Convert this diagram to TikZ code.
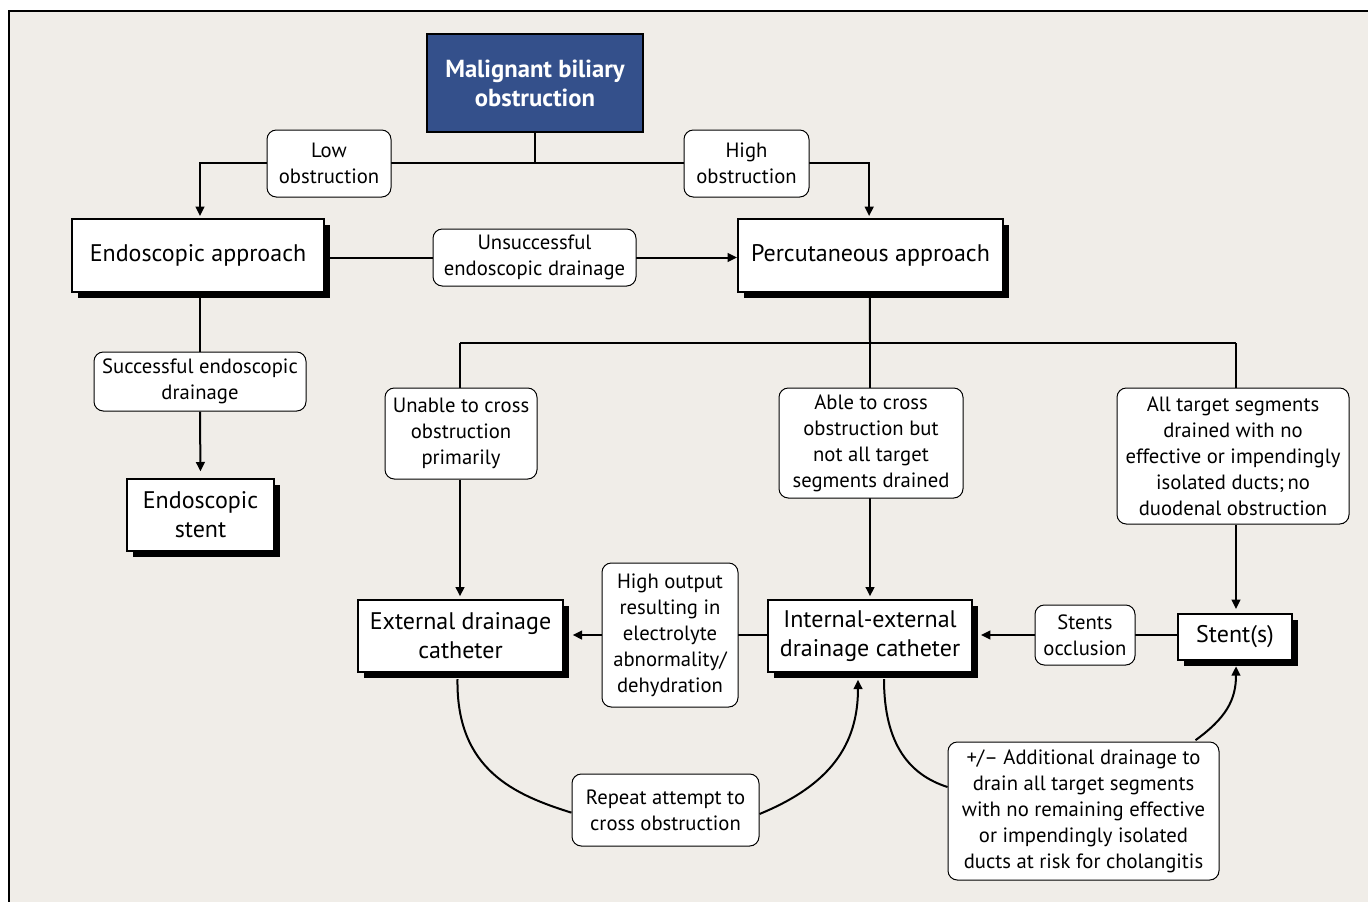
\documentclass[tikz,border=0pt]{standalone}
\usepackage{fontspec}
\setmainfont{PT Sans}
\usetikzlibrary{arrows.meta,shadows}
\definecolor{bgc}{HTML}{F0EDE8}
\definecolor{titleblue}{HTML}{34508B}
\pgfdeclarelayer{bg}
\pgfdeclarelayer{lines}
\pgfsetlayers{bg,lines,main}
\tikzset{
  box/.style={draw=black, line width=1.5pt, fill=white, align=center, inner sep=0pt,
    font=\fontsize{18}{21.75}\selectfont,
    drop shadow={shadow xshift=4.5pt, shadow yshift=-4.5pt, fill=black, opacity=1}},
  titlebox/.style={draw=black, line width=1.5pt, fill=titleblue, text=white, align=center,
    inner sep=0pt, font=\fontsize{18.5}{21.75}\selectfont\bfseries},
  lbl/.style={draw=black, line width=0.75pt, fill=white, rounded corners=7pt, align=center,
    inner sep=0pt, font=\fontsize{15.5}{19.5}\selectfont},
  conn/.style={line width=1.5pt, draw=black},
  arr/.style={conn, -{Triangle[length=7pt,width=6.5pt]}},
}
\begin{document}
\begin{tikzpicture}[x=0.75pt,y=-0.75pt]
\useasboundingbox (0,0) rectangle (1368,901);
\begin{pgfonlayer}{bg}
\fill[white] (0,0) rectangle (1368,901);
\draw[fill=bgc, line width=1.5pt] (9,11) rectangle (1390,920);
\end{pgfonlayer}

% main boxes
\node[titlebox, minimum width=162pt, minimum height=73.5pt] (title) at (535,83) {Malignant biliary\\obstruction};
\node[box, minimum width=189pt, minimum height=54.75pt] (endo) at (198,255.5) {Endoscopic approach};
\node[box, minimum width=198.75pt, minimum height=54.75pt] (perc) at (870.5,255.5) {Percutaneous approach};
\node[box, minimum width=110.25pt, minimum height=54pt] (estent) at (200.5,515) {Endoscopic\\stent};
\node[box, minimum width=153.75pt, minimum height=54pt] (ext) at (460.5,636) {External drainage\\catheter};
\node[box, minimum width=153pt, minimum height=54pt] (intext) at (870,636) {Internal-external\\drainage catheter};
\node[box, minimum width=85.5pt, minimum height=34.5pt] (stents) at (1235,637) {Stent(s)};

% labels
\node[lbl, minimum width=93pt, minimum height=50.25pt] (low) at (329,163.5) {Low\\obstruction};
\node[lbl, minimum width=93.75pt, minimum height=50.25pt] (high) at (746.5,163.5) {High\\obstruction};
\node[lbl, minimum width=152.25pt, minimum height=42.75pt] (unsucc) at (534.5,257.5) {Unsuccessful\\endoscopic drainage};
\node[lbl, minimum width=159pt, minimum height=44.25pt] (succ) at (200,381.5) {Successful endoscopic\\drainage};
\node[lbl, minimum width=114pt, minimum height=68.25pt] (unable) at (461,433.5) {Unable to cross\\obstruction\\primarily};
\node[lbl, minimum width=138pt, minimum height=82.5pt] (able) at (871,443) {Able to cross\\obstruction but\\not all target\\segments drained};
\node[lbl, minimum width=174pt, minimum height=102pt] (allt) at (1233,456) {All target segments\\drained with no\\effective or impendingly\\isolated ducts;\,no\\duodenal obstruction};
\node[lbl, minimum width=102pt, minimum height=108pt] (highout) at (670,635) {High output\\resulting in\\electrolyte\\abnormality/\\dehydration};
\node[lbl, minimum width=75pt, minimum height=45pt] (socc) at (1085,635) {Stents\\occlusion};
\node[lbl, minimum width=140.25pt, minimum height=54pt] (repeat) at (665.5,810) {Repeat attempt to\\cross obstruction};
\node[lbl, minimum width=203.25pt, minimum height=103.5pt] (addl) at (1083.5,811) {+/– Additional drainage to\\drain all target segments\\with no remaining effective\\or impendingly isolated\\ducts at risk for cholangitis};

\coordinate (jt) at (535,163);
\coordinate (jp) at (870,343);
\coordinate (ja) at (460,343);
\coordinate (jb) at (1236,343);

\begin{pgfonlayer}{lines}
\draw[conn] (title.south) -- (jt);
\draw[arr, shorten >=1.5pt] (jt) -| ([xshift=1.5pt]endo.north);
\draw[arr, shorten >=1.5pt] (jt) -| ([xshift=-1pt]perc.north);
\draw[arr] (endo.east |- unsucc) -- (perc.west |- unsucc);
\draw[conn] ([xshift=1.5pt]endo.south) -- (succ.north);
\draw[arr, shorten >=5pt] (succ.south) -- (estent.north);
\draw[conn] ([xshift=-0.5pt]perc.south) -- (jp);
\draw[conn] (ja) -- (jb);
\draw[conn] (ja) -- (unable.north -| ja);
\draw[arr, shorten >=2pt] (unable.south -| ja) -- (ext.north -| ja);
\draw[arr, shorten >=2pt] (jp) -- (intext.north -| jp);
\draw[conn] (jb) -- (allt.north -| jb);
\draw[arr, shorten >=2pt] (allt.south -| jb) -- ([yshift=1pt]stents.north -| jb);
\draw[arr] (stents.west |- socc) -- ([xshift=6pt]intext.east |- socc);
\draw[arr] (intext.west |- highout) -- ([xshift=6.5pt]ext.east |- highout);
\draw[conn] ([xshift=-2.25pt,yshift=-4.5pt]ext.south) .. controls (456,770) and (515,795) .. ([yshift=-2pt]repeat.west);
\draw[arr] ([yshift=-3pt]repeat.east) .. controls (830,785) and (858,745) .. ([xshift=-9pt,yshift=-5pt]intext.south);
\draw[conn] ([xshift=10.5pt,yshift=-4.5pt]intext.south) .. controls (884,745) and (910,775) .. ([yshift=18pt]addl.west);
\draw[arr] ([xshift=-18pt,yshift=1pt]addl.north east) .. controls (1226,718) and (1236,700) .. ([yshift=-4pt]stents.south -| jb);
\end{pgfonlayer}
\end{tikzpicture}
\end{document}
